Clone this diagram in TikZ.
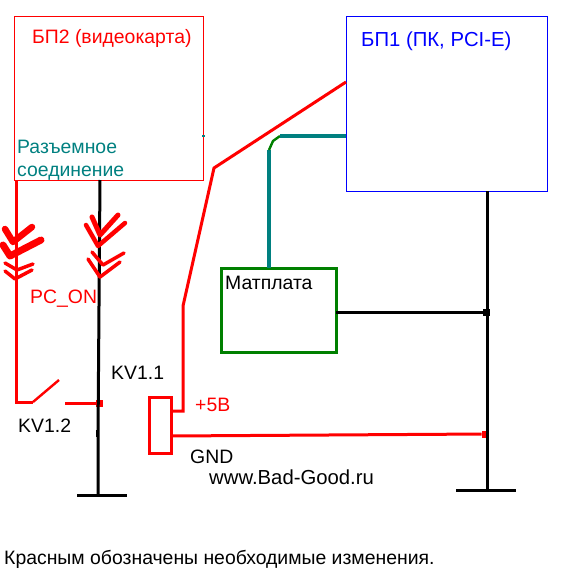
\documentclass[tikz,border=0pt]{standalone}
\usepackage{fontspec}
\setmainfont{Liberation Sans}
\usepackage{tikz}
\usetikzlibrary{
  calc
}
\definecolor{wirered}{RGB}{255, 0, 0}
\definecolor{psublue}{RGB}{0, 0, 255}
\definecolor{boardgreen}{RGB}{0, 128, 0}
\definecolor{wireteal}{RGB}{0, 128, 128}
\tikzset{
boxbase/.style={
  draw,
  anchor=north west,
  inner sep=0pt,
  outer sep=0pt
},
psutwo/.style={
  boxbase,
  draw=wirered,
  line width=0.8pt,
  minimum width=189pt,
  minimum height=164pt
},
psuone/.style={
  boxbase,
  draw=psublue,
  line width=0.8pt,
  minimum width=201pt,
  minimum height=175pt
},
boardblock/.style={
  boxbase,
  draw=boardgreen,
  line width=3pt,
  minimum width=115pt,
  minimum height=84pt
},
coilblock/.style={
  boxbase,
  draw=wirered,
  line width=3pt,
  minimum width=22pt,
  minimum height=56pt
},
junction/.style={
  inner sep=0pt,
  outer sep=0pt,
  minimum size=7pt
},
label/.style={
  anchor=base west,
  inner sep=0pt,
  font=\fontsize{19.4}{22}\selectfont
},
widelabel/.style={
  label,
  font=\fontsize{20.3}{22}\selectfont
},
redwire/.style={
  draw=wirered,
  line width=3pt
},
blackwire/.style={
  draw=black,
  line width=3pt
},
tealwire/.style={
  draw=wireteal,
  line width=3.5pt
},
greenwire/.style={
  draw=boardgreen,
  line width=3pt
}
}
\begin{document}
\begin{tikzpicture}[x=1pt,y=-1pt]
  \useasboundingbox (0,0) rectangle (570,570);

  % boxes
  \node[psutwo] (bptwo) at (14,16) {};
  \node[psuone] (bpone) at (346,16) {};
  \node[boardblock] (board) at (221,268) {};
  \node[coilblock] (coil) at (149,397) {};

  % junctions
  \node[junction, fill=wirered] (kvjoint) at (99,403) {};
  \node[junction, fill=black] (boardjoint) at (486,312) {};
  \node[junction, fill=wirered] (gndjoint) at (485,434) {};

  % points on the wires
  \coordinate (leftdrop) at (16,402);
  \coordinate (contactpivot) at (33,402);
  \coordinate (contacttip) at (59,380);
  \coordinate (contactfree) at (65,403);
  \coordinate (midtap) at (100,180);
  \coordinate (midstep) at (99,306);
  \coordinate (midnotch) at (98,437);
  \coordinate (groundleft) at (77,495);
  \coordinate (groundright) at (127,495);
  \coordinate (groundmid) at (98,495);
  \coordinate (pluscorner) at (183,411);
  \coordinate (plusbend) at (183,306);
  \coordinate (pluskink) at (214,168);
  \coordinate (plusend) at (346,82);
  \coordinate (gndtap) at (171,436);
  \coordinate (boardup) at (269,150);
  \coordinate (boardover) at (280,136);
  \coordinate (rightdrop) at (487,191);
  \coordinate (rightend) at (487,490);
  \coordinate (rightleft) at (456,490);
  \coordinate (rightright) at (516,490);

  % red wires
  \draw[redwire] (bptwo.south west -| leftdrop) -- (leftdrop) -- (contactpivot);
  \draw[redwire, line width=2.4pt] (contactpivot) -- (contacttip);
  \draw[redwire] (contactfree) -- (kvjoint);
  \draw[redwire] (coil.east |- pluscorner) -- (pluscorner) -- (plusbend) -- (pluskink) -- (bpone.west |- plusend);
  \draw[redwire] (coil.east |- gndtap) -- (gndjoint);

  % black wires
  \draw[blackwire] (bptwo.south -| midtap) -- (midstep |- 0,305) -- (midstep) -- (midnotch) -- (groundmid);
  \draw[blackwire] (groundleft) -- (groundright);
  \draw[blackwire] (97,430) -- (97,437);
  \draw[blackwire] (bpone.south -| rightdrop) -- (rightend);
  \draw[blackwire] (rightleft) -- (rightright);
  \draw[blackwire] (board.east |- boardjoint) -- (boardjoint);

  % teal and green wires
  \draw[tealwire] (board.north -| boardup) -- (boardup);
  \draw[greenwire, line width=2.4pt] (boardup) -- (273,141) -- (boardover);
  \draw[tealwire] (boardover) -- (bpone.west |- boardover);
  \draw[wireteal, line width=1.2pt] (202,136) -- (205,136);

  % connector chevrons
  \foreach \ax/\ay/\bx/\by/\cx/\cy/\wd in {
    5/229/13/242/32/227/6.5,
    3/245/10/256/41/240/7,
    5/263/17/270/33/264/3.5,
    5/271/15/279/32/270/3.5,
    92/217/100/235/118/215/5,
    86/225/98/246/125/223/4.5,
    92/252/103/265/124/253/3.5,
    88/259/100/277/120/262/3.5}
  {
    \draw[redwire, line width=\wd pt, line cap=round, line join=round]
      (\ax,\ay) -- (\bx,\by) -- (\cx,\cy);
  }

  % texts
  \node[label, text=wirered] (bptwolabel) at (32,43) {БП2 (видеокарта)};
  \node[widelabel, text=psublue] (bponelabel) at (361,46) {БП1 (ПК, PCI-E)};
  \node[label, text=wireteal] (joinlabela) at (17,153) {Разъемное};
  \node[label, text=wireteal] (joinlabelb) at (17,176) {соединение};
  \node[label, text=wirered] (pclabel) at (30,303) {PC\_ON};
  \node[label] (boardlabel) at (225,289) {Матплата};
  \node[label] (kvonelabel) at (111,379) {KV1.1};
  \node[label] (kvtwolabel) at (18,432) {KV1.2};
  \node[label, text=wirered] (pluslabel) at (195,411) {+5В};
  \node[label] (gndlabel) at (190,463) {GND};
  \node[widelabel] (sitelabel) at (209,484) {www.Bad-Good.ru};
  \node[label] (notelabel) at (4,564) {Красным обозначены необходимые изменения.};
\end{tikzpicture}
\end{document}
